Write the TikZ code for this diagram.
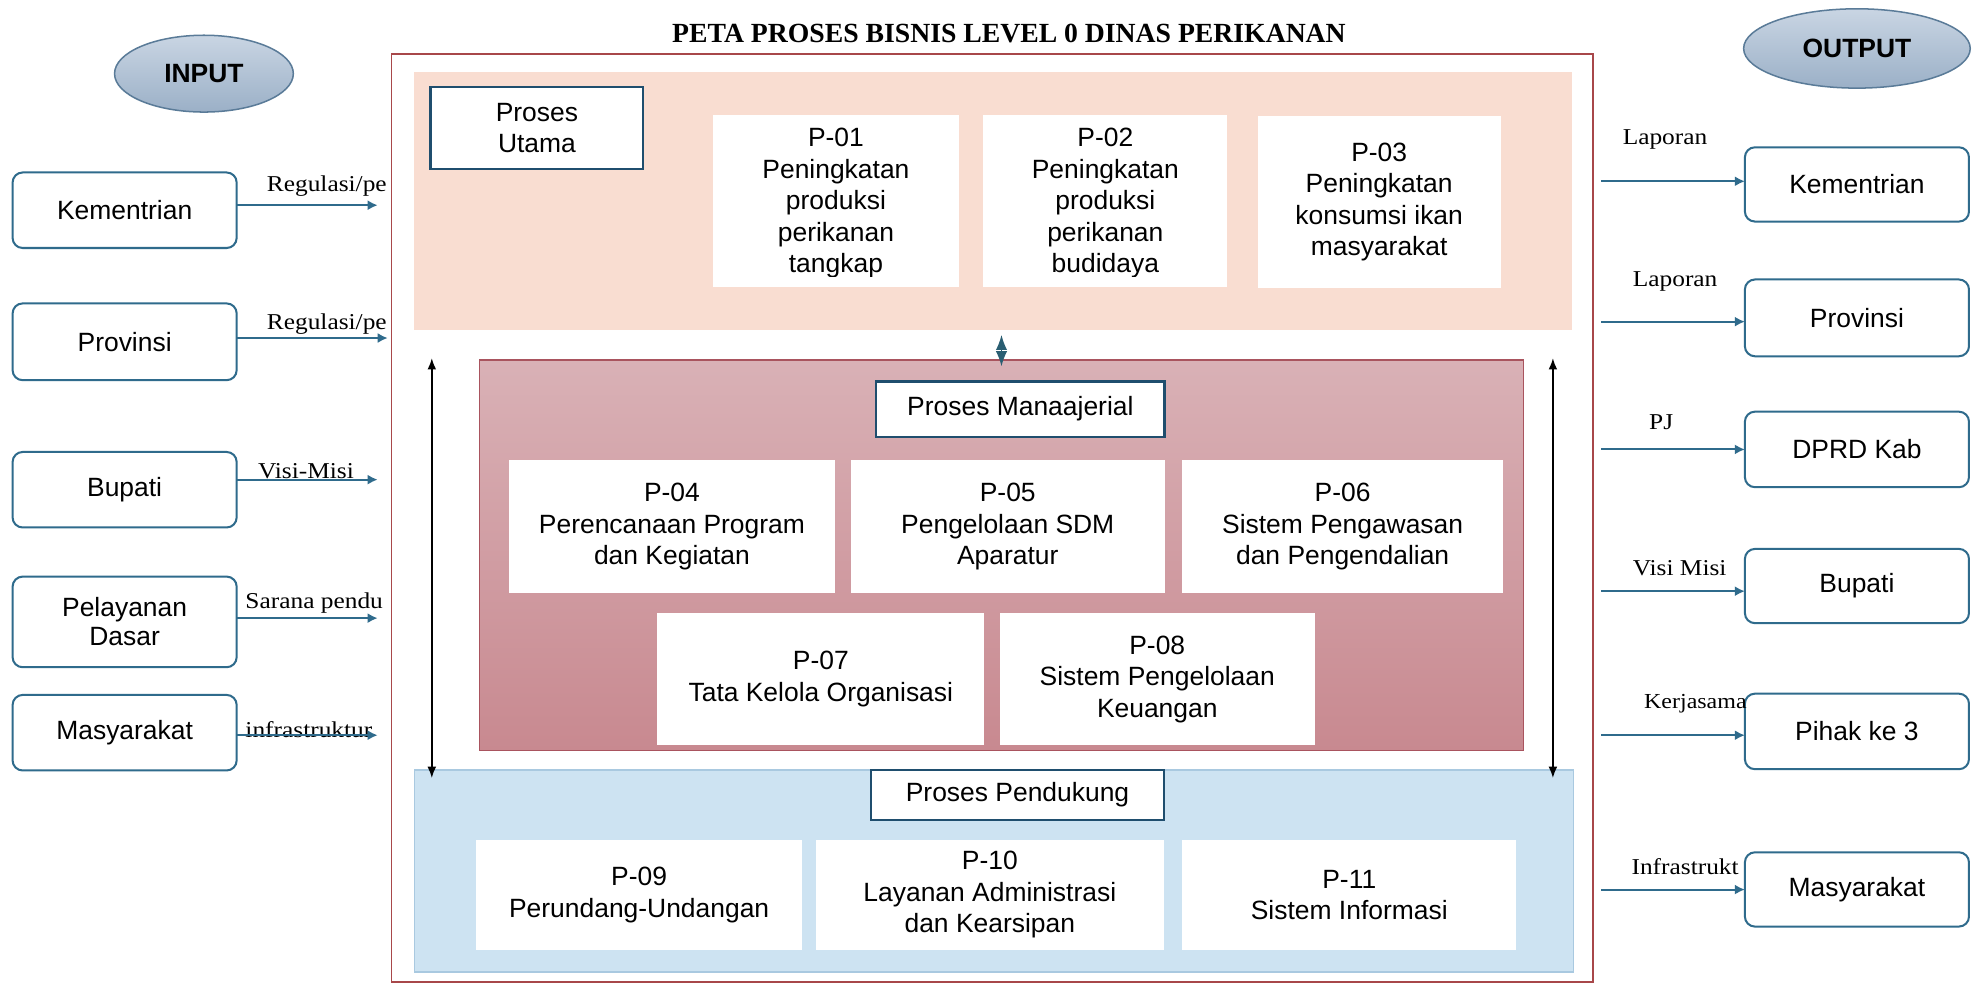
\documentclass[tikz,border=0pt]{standalone}
\usepackage{fontspec}
\setmainfont{Liberation Sans}
\newfontfamily\labelserif[FakeStretch=1.12]{Liberation Serif}
\newfontfamily\titleserif{Liberation Serif}
\usetikzlibrary{arrows.meta,shapes.geometric}

\definecolor{framered}{HTML}{A8474A}
\definecolor{peach}{HTML}{F9DDD1}
\definecolor{mauvetop}{HTML}{D9B1B6}
\definecolor{mauvebot}{HTML}{C88990}
\definecolor{mauveline}{HTML}{A9545E}
\definecolor{skyfill}{HTML}{CDE3F2}
\definecolor{skyline}{HTML}{A9C9E0}
\definecolor{navy}{HTML}{1F4E6E}
\definecolor{steel}{HTML}{2F6B8C}
\definecolor{ovaltop}{HTML}{C9D5E3}
\definecolor{ovalbot}{HTML}{9BB0C7}
\definecolor{ovalline}{HTML}{5A7B98}
\definecolor{tealtip}{HTML}{2A5E72}

% a rectangular node given by its corners: style, name, x1, y1, x2, y2, text
\newcommand\areanode[7]{%
  \node[#1, minimum width={(#5)-(#3)}, minimum height={(#6)-(#4)}]
    (#2) at ({((#3)+(#5))/2},{((#4)+(#6))/2}) {#7};}

\begin{document}
\begin{tikzpicture}[x=1pt,y=-1pt,
  every node/.style={inner sep=0pt,outer sep=0pt},
  plain/.style={},
  boxtext/.style={font=\fontsize{21}{25}\selectfont, align=center},
  panelbox/.style={fill=white, boxtext},
  tagbox/.style={fill=white, draw=navy, line width=1.8pt, boxtext},
  endbox/.style={fill=white, draw=steel, line width=1.6pt, rounded corners=8pt, boxtext},
  oval/.style={ellipse, draw=ovalline, line width=1.2pt, top color=ovaltop, bottom color=ovalbot,
               font=\fontsize{21}{25}\selectfont\bfseries},
  flow/.style={draw=steel, line width=1.6pt, -{Latex[length=8pt,width=8pt]}},
  flowlabel/.style={font=\labelserif\fontsize{18}{20}\selectfont, anchor=base west},
  link/.style={draw=black, line width=1.3pt, {Latex[length=9pt,width=7pt]}-{Latex[length=9pt,width=7pt]}},
  minilink/.style={draw=tealtip, line width=1.2pt, {Latex[length=12pt,width=9pt]}-{Latex[length=12pt,width=9pt]}},
  ]

% page
\fill[white] (0,0) rectangle (1568,783);
\useasboundingbox (0,0) rectangle (1568,783);

% title and outer frame
\node[anchor=base, font=\titleserif\bfseries\fontsize{22}{26}\selectfont] (title) at (801.5,34)
  {PETA PROSES BISNIS LEVEL 0 DINAS PERIKANAN};
\areanode{draw=framered, line width=1.5pt}{dinas}{311}{43}{1265.5}{780}{}

% core processes
\areanode{fill=peach}{utama}{329}{57}{1249}{262}{}
\areanode{tagbox}{utamatag}{342}{69}{511}{134}{Proses\\Utama}
\areanode{panelbox}{p01}{566}{91}{762}{228}{}
\areanode{panelbox}{p02}{781}{91}{975}{228}{}
\areanode{panelbox, yshift=-1pt}{p03}{999}{91}{1192}{228}{P-03\\Peningkatan\\konsumsi ikan\\masyarakat}
\begin{scope}
  \clip (566,91) rectangle (975,220);
  \node[boxtext, yshift=-2pt] (p01text) at (p01.center) {P-01\\Peningkatan\\produksi\\perikanan\\tangkap};
  \node[boxtext, yshift=-2pt] (p02text) at (p02.center) {P-02\\Peningkatan\\produksi\\perikanan\\budidaya};
\end{scope}

% managerial processes
\areanode{top color=mauvetop, bottom color=mauvebot, draw=mauveline, line width=1.2pt}{manajerial}{381}{286}{1210}{596}{}
\areanode{tagbox}{manajerialtag}{696}{303}{925}{347}{Proses Manaajerial}
\areanode{panelbox}{p04}{404}{365.5}{663.5}{471}{P-04\\Perencanaan Program\\dan Kegiatan}
\areanode{panelbox}{p05}{676}{365.5}{925}{471}{P-05\\Pengelolaan SDM\\Aparatur}
\areanode{panelbox}{p06}{939}{365.5}{1194}{471}{P-06\\Sistem Pengawasan\\dan Pengendalian}
\areanode{panelbox}{p07}{522}{487}{782}{592}{P-07\\Tata Kelola Organisasi}
\areanode{panelbox}{p08}{794}{487}{1044.5}{592}{P-08\\Sistem Pengelolaan\\Keuangan}

% support processes
\areanode{fill=skyfill, draw=skyline, line width=1pt}{pendukung}{329}{611.6}{1250}{772}{}
\areanode{tagbox}{pendukungtag}{692}{611.6}{924.5}{651.3}{Proses Pendukung}
\areanode{panelbox}{p09}{378}{667}{637.4}{754.6}{P-09\\Perundang-Undangan}
\areanode{panelbox}{p10}{648}{667}{924.5}{754.6}{P-10\\Layanan Administrasi\\dan Kearsipan}
\areanode{panelbox}{p11}{939}{667}{1204.5}{754.6}{P-11\\Sistem Informasi}

% links between the layers
\coordinate (linkLtop) at (343,284.5);
\coordinate (linkLbot) at (343,618);
\coordinate (linkRtop) at (1233.5,284.5);
\coordinate (linkRbot) at (1233.5,618);
\draw[link] (linkLtop) -- (linkLbot);
\draw[link] (linkRtop) -- (linkRbot);
\draw[minilink] ([yshift=-4pt]manajerial.north |- utama.south) -- ([yshift=-5pt]manajerial.north);

% input side
\node[oval, minimum width=142pt, minimum height=61pt] (inputoval) at (162,58.5) {INPUT};
\areanode{endbox}{kemin}{10}{137}{188}{197}{Kementrian}
\areanode{endbox}{provin}{10}{241}{188}{302}{Provinsi}
\areanode{endbox}{bupin}{10}{359}{188}{419}{Bupati}
\areanode{endbox, font=\fontsize{21}{23}\selectfont}{pelin}{10}{458}{188}{530}{Pelayanan\\Dasar}
\areanode{endbox}{masin}{10}{552}{188}{612}{Masyarakat}

\node[flowlabel] (kemlbl) at (212,152) {Regulasi/pe};
\node[flowlabel] (provlbl) at (212,262) {Regulasi/pe};
\node[flowlabel] (buplbl) at (205,380) {Visi-Misi};
\node[flowlabel] (pellbl) at (195,483) {Sarana pendu};
\node[flowlabel] (maslbl) at (195,586) {infrastruktur};

\coordinate (kemtip) at (300,163);
\coordinate (provtip) at (308,268.5);
\coordinate (buptip) at (300,381);
\coordinate (peltip) at (300,491);
\coordinate (mastip) at (300,584);
\draw[flow] (kemin.east |- kemtip) -- (kemtip);
\draw[flow] (provin.east |- provtip) -- (provtip);
\draw[flow] (bupin.east |- buptip) -- (buptip);
\draw[flow] (pelin.east |- peltip) -- (peltip);
\draw[flow] (masin.east |- mastip) -- (mastip);

% output side
\node[oval, minimum width=180pt, minimum height=63pt] (outputoval) at (1475,38.5) {OUTPUT};

\node[flowlabel] (kemoutlbl) at (1289,115) {Laporan};
\node[flowlabel] (provoutlbl) at (1297,227.7) {Laporan};
\node[flowlabel] (dprdlbl) at (1310,341.5) {PJ};
\node[flowlabel] (bupoutlbl) at (1297,457) {Visi Misi};
\node[flowlabel] (masoutlbl) at (1296,694.7) {Infrastrukt};

\areanode{endbox}{kemout}{1386}{117}{1564}{176}{Kementrian}
\areanode{endbox}{provout}{1386}{222}{1564}{283}{Provinsi}
\areanode{endbox}{dprdout}{1386}{327}{1564}{387}{DPRD Kab}
\areanode{endbox}{bupout}{1386}{436}{1564}{495}{Bupati}
\areanode{endbox}{pihakout}{1386}{551}{1564}{611}{Pihak ke 3}
\areanode{endbox}{masout}{1386}{677}{1564}{736}{Masyarakat}

\node[flowlabel, font=\labelserif\fontsize{17}{20}\selectfont] (pihaklbl) at (1306,562.6) {Kerjasama};

\coordinate (kemtail) at (1272,144);
\coordinate (provtail) at (1272,255.5);
\coordinate (dprdtail) at (1272,357);
\coordinate (buptail) at (1272,469.6);
\coordinate (pihaktail) at (1272,584);
\coordinate (mastail) at (1272,706.6);
\draw[flow] (kemtail) -- (kemout.west |- kemtail);
\draw[flow] (provtail) -- (provout.west |- provtail);
\draw[flow] (dprdtail) -- (dprdout.west |- dprdtail);
\draw[flow] (buptail) -- (bupout.west |- buptail);
\draw[flow] (pihaktail) -- (pihakout.west |- pihaktail);
\draw[flow] (mastail) -- (masout.west |- mastail);

\end{tikzpicture}
\end{document}
